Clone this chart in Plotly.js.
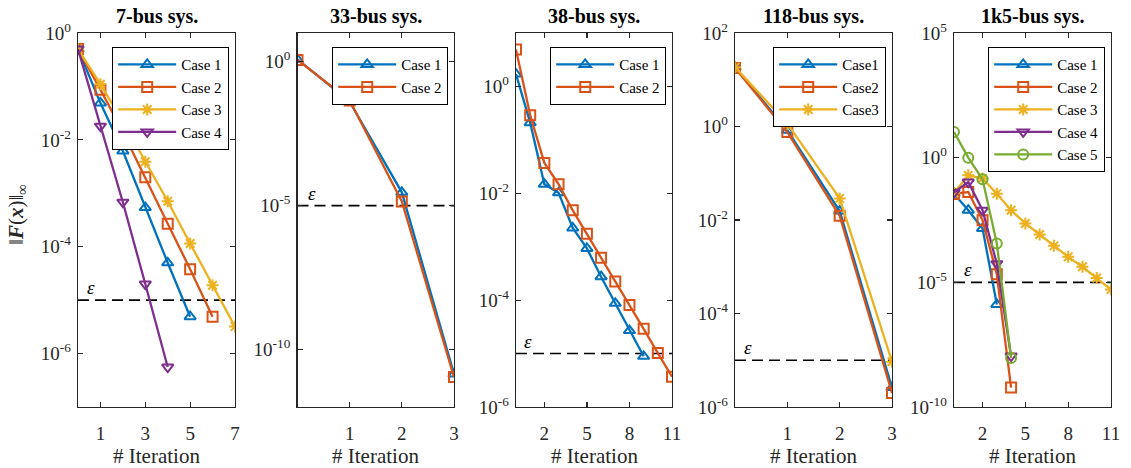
<!DOCTYPE html>
<html>
<head>
<meta charset="utf-8">
<script src="https://cdn.plot.ly/plotly-3.0.1.min.js"></script>
<style>html,body{margin:0;padding:0;background:#fff}#chart{width:1131px;height:468px}</style>
</head>
<body>
<div id="chart"></div>
<script>
// ---------- DATA ----------
const panelTitles = ["7-bus sys.", "33-bus sys.", "38-bus sys.", "118-bus sys.", "1k5-bus sys."];
const epsilonValue = 1e-5;

// 7-bus
const names7 = ["Case 1", "Case 2", "Case 3", "Case 4"];
const bus7_case1 = [0.5, 4.9e-2, 6.2e-3, 5.4e-4, 5.0e-5, 4.9e-6];
const bus7_case2 = [0.5, 8.7e-2, 1.4e-2, 2.0e-3, 2.7e-4, 3.8e-5, 4.9e-6];
const bus7_case3 = [0.5, 0.11, 2.2e-2, 3.9e-3, 7.1e-4, 1.15e-4, 1.9e-5, 3.2e-6];
const bus7_case4 = [0.5, 1.8e-2, 6.8e-4, 2.0e-5, 5.6e-7];
const xticks7 = [1, 3, 5, 7];
const yticks7 = [0, -2, -4, -6];

// 33-bus
const names33 = ["Case 1", "Case 2"];
const bus33_case1 = [1.2, 4.1e-2, 2.9e-5, 1.4e-11];
const bus33_case2 = [1.15, 4.5e-2, 1.4e-5, 1.1e-11];
const xticks33 = [1, 2, 3];
const yticks33 = [0, -5, -10];

// 38-bus
const names38 = ["Case 1", "Case 2"];
const bus38_case1 = [1.7, 0.21, 1.48e-2, 1.02e-2, 2.24e-3, 9.3e-4, 2.75e-4, 8.7e-5, 2.7e-5, 8.9e-6];
const bus38_case2 = [4.9, 0.29, 3.7e-2, 1.48e-2, 4.8e-3, 1.74e-3, 6.2e-4, 2.24e-4, 8.1e-5, 2.9e-5, 1.02e-5, 3.7e-6];
const xticks38 = [2, 5, 8, 11];
const yticks38 = [0, -2, -4, -6];

// 118-bus
const names118 = ["Case1", "Case2", "Case3"];
const bus118_case1 = [18.6, 0.83, 1.55e-2, 2.6e-6];
const bus118_case2 = [17.8, 0.76, 1.23e-2, 2.0e-6];
const bus118_case3 = [18.6, 1.15, 2.9e-2, 9.3e-6];
const xticks118 = [1, 2, 3];
const yticks118 = [2, 0, -2, -4, -6];

// 1k5-bus
const names1k5 = ["Case 1", "Case 2", "Case 3", "Case 4", "Case 5"];
const bus1k5_case1 = [3.6e-2, 7.8e-3, 1.45e-3, 1.3e-6];
const bus1k5_case2 = [3.5e-2, 4.2e-2, 3.1e-3, 2.1e-5, 6.0e-10];
const bus1k5_case3 = [3.8e-2, 0.195, 0.145, 3.6e-2, 7.8e-3, 2.3e-3, 8.3e-4, 2.9e-4, 1.05e-4, 4.2e-5, 1.5e-5, 5.1e-6];
const bus1k5_case4 = [4.0e-2, 0.105, 7.8e-3, 5.6e-5, 1.1e-8];
const bus1k5_case5 = [10.7, 1.0, 0.135, 3.6e-4, 9.3e-9];
const xticks1k5 = [2, 5, 8, 11];
const yticks1k5 = [5, 0, -5, -10];

// ---------- STYLE / LAYOUT ----------
const colors = ['#0072BD', '#D95319', '#EDB120', '#7E2F8E', '#77AC30'];
const symbols = ['triangle-up-open', 'square-open', 'asterisk-open', 'triangle-down-open', 'circle-open'];
const W = 1131, H = 468;
const FONT = 'Liberation Serif, serif';
const AX = '#262626';

const panels = [
  {names: names7, series: [bus7_case1, bus7_case2, bus7_case3, bus7_case4], xr: [0, 7], yr: [-7, 0], xt: xticks7, yt: yticks7, px: [78, 235], epsX: 0.6},
  {names: names33, series: [bus33_case1, bus33_case2], xr: [0, 3], yr: [-12, 1], xt: xticks33, yt: yticks33, px: [297.5, 454], epsX: 0.27},
  {names: names38, series: [bus38_case1, bus38_case2], xr: [0, 11], yr: [-6, 1], xt: xticks38, yt: yticks38, px: [516, 672], epsX: 0.85},
  {names: names118, series: [bus118_case1, bus118_case2, bus118_case3], xr: [0, 3], yr: [-6, 2], xt: xticks118, yt: yticks118, px: [735, 892], epsX: 0.25},
  {names: names1k5, series: [bus1k5_case1, bus1k5_case2, bus1k5_case3, bus1k5_case4, bus1k5_case5], xr: [0, 11], yr: [-10, 5], xt: xticks1k5, yt: yticks1k5, px: [954, 1111], epsX: 0.95}
];

const plotTop = 33, plotBottom = 407;
const yDom = [1 - plotBottom / H, 1 - plotTop / H];

const traces = [];
const layout = {
  width: W, height: H,
  margin: {l: 0, r: 0, t: 0, b: 0},
  paper_bgcolor: '#fff', plot_bgcolor: '#fff',
  font: {family: FONT, color: AX, size: 17},
  annotations: [],
  showlegend: true
};

panels.forEach((p, i) => {
  const k = i + 1;
  const xa = 'x' + (k === 1 ? '' : k), ya = 'y' + (k === 1 ? '' : k);
  const xKey = 'xaxis' + (k === 1 ? '' : k), yKey = 'yaxis' + (k === 1 ? '' : k);
  const legKey = 'legend' + (k === 1 ? '' : k);

  // epsilon line
  traces.push({
    x: [p.xr[0], p.xr[1]], y: [epsilonValue, epsilonValue],
    xaxis: xa, yaxis: ya, mode: 'lines', showlegend: false, hoverinfo: 'skip',
    line: {color: '#000', width: 1.6, dash: '11px,6px'}
  });

  p.series.forEach((s, j) => {
    traces.push({
      x: s.map((_, n) => n), y: s,
      xaxis: xa, yaxis: ya, legend: legKey,
      name: p.names[j], mode: 'lines+markers',
      line: {color: colors[j], width: 2.3},
      marker: {symbol: symbols[j], size: 10, color: colors[j], line: {color: colors[j], width: 2}}
    });
  });

  layout[xKey] = {
    domain: [p.px[0] / W, p.px[1] / W], anchor: ya, range: p.xr,
    tickmode: 'array', tickvals: p.xt, ticktext: p.xt.map(String),
    ticks: 'inside', ticklen: 5, tickwidth: 1.2, tickcolor: AX,
    showline: true, linecolor: AX, linewidth: 1.4, mirror: 'allticks',
    showgrid: false, zeroline: false, ticklabelstandoff: 9,
    tickfont: {family: FONT, size: 19, color: AX}
  };
  layout[yKey] = {
    domain: yDom, anchor: xa, type: 'log', range: p.yr,
    tickmode: 'array', tickvals: p.yt.map(e => Math.pow(10, e)),
    ticktext: p.yt.map(e => '10<sup>' + e + '</sup>'),
    ticks: 'inside', ticklen: 5, tickwidth: 1.2, tickcolor: AX,
    showline: true, linecolor: AX, linewidth: 1.4, mirror: 'allticks',
    showgrid: false, zeroline: false, ticklabelstandoff: 2,
    tickfont: {family: FONT, size: 19, color: AX}
  };

  layout[legKey] = {
    x: (p.px[1] - 6) / W, xanchor: 'right', y: 1 - 47 / H, yanchor: 'top',
    bgcolor: '#fff', bordercolor: '#000', borderwidth: 1.2,
    font: {family: FONT, size: 15, color: '#000'}, itemwidth: 58, tracegroupgap: 0
  };

  const cx = (p.px[0] + p.px[1]) / 2 / W;
  layout.annotations.push({
    xref: 'paper', yref: 'paper', x: cx, y: 1 - 17 / H, xanchor: 'center', yanchor: 'middle',
    text: '<b>' + panelTitles[i] + '</b>', showarrow: false,
    font: {family: FONT, size: 20, color: '#000'}
  });
  layout.annotations.push({
    xref: 'paper', yref: 'paper', x: cx, y: 1 - 456 / H, xanchor: 'center', yanchor: 'middle',
    text: '# Iteration', showarrow: false, font: {family: FONT, size: 21, color: AX}
  });
  layout.annotations.push({
    xref: xa, yref: ya, x: p.epsX, y: Math.log10(epsilonValue), xanchor: 'center', yanchor: 'bottom',
    text: '<i>ε</i>', showarrow: false, font: {family: FONT, size: 19, color: '#000'}
  });
});

layout.annotations.push({
  xref: 'paper', yref: 'paper', x: 17 / W, y: 1 - 215 / H, xanchor: 'center', yanchor: 'middle',
  textangle: -90, showarrow: false,
  text: '‖<b><i>F</i></b>(<b><i>x</i></b>)‖<sub>∞</sub>',
  font: {family: FONT, size: 21, color: AX}
});

Plotly.newPlot('chart', traces, layout, {displayModeBar: false, staticPlot: true});
</script>
</body>
</html>
